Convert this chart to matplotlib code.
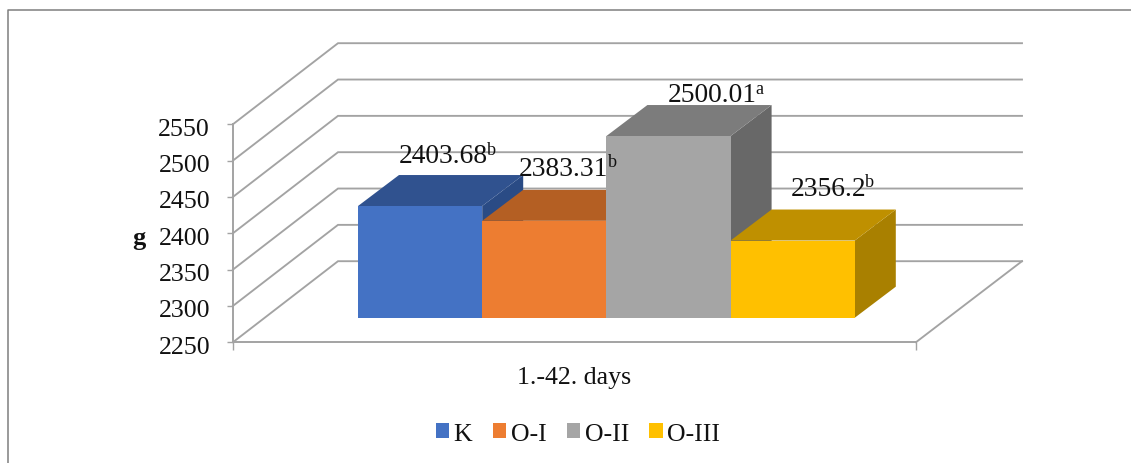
import matplotlib
matplotlib.use('Agg')
import matplotlib.pyplot as plt
from matplotlib.patches import Patch, Polygon
from matplotlib.transforms import ScaledTranslation

# weight gain per group
groups = ['K', 'O-I', 'O-II', 'O-III']
values = [2403.68, 2383.31, 2500.01, 2356.2]
letters = ['b', 'b', 'a', 'b']
y_ticks = [2250, 2300, 2350, 2400, 2450, 2500, 2550]
category = '1.-42. days'
y_label = 'g'

front_colors = ['#4472C4', '#ED7D31', '#A5A5A5', '#FFC000']
top_colors = ['#30528F', '#B45F23', '#7C7C7C', '#BF9000']
side_colors = ['#2A4B85', '#A35520', '#686868', '#A98000']

GRID = '#a3a3a3'
W, H = 1131, 464
px_per_unit = 218 / 300
bar_w = 124.2
fs = 18.6

plt.rcParams['font.family'] = ['Liberation Serif', 'DejaVu Serif']

fig = plt.figure(figsize=(W / 100, H / 100), dpi=100)
ax = fig.add_axes([0, 0, 1, 1])

# bar slots are the x unit, the first bar starts at pixel 358
ax.set_xlim(-358 / bar_w, (W - 358) / bar_w)
base_px = 343.2
ax.set_ylim(2250 - (H - base_px) / px_per_unit, 2250 + base_px / px_per_unit)


def dx(p):
    return p / bar_w


def dy(p):
    return p / px_per_unit


x_left = dx(233 - 358)
x_right = dx(916 - 358)
wall_x, wall_y = dx(105), dy(81)
back_end = dx(1022 - 358)

# walls and floor of the 3d box
for t in y_ticks:
    ax.plot([x_left, x_left + wall_x, back_end], [t, t + wall_y, t + wall_y],
            color=GRID, lw=1.35, zorder=1, solid_joinstyle='miter')
ax.plot([x_right, back_end], [2250, 2250 + wall_y], color=GRID, lw=1.35, zorder=1)

# bars: front face sits a little ahead of the back wall
bar_lift = dy(24.5)
depth_x, depth_y = dx(41), dy(31)
for i, v in enumerate(values):
    x0, x1 = i, i + 1
    y0, y1 = 2250 + bar_lift, v + bar_lift
    top = [(x0, y1), (x1, y1), (x1 + depth_x, y1 + depth_y), (x0 + depth_x, y1 + depth_y)]
    side = [(x1, y0), (x1 + depth_x, y0 + depth_y), (x1 + depth_x, y1 + depth_y), (x1, y1)]
    ax.add_patch(Polygon(side, closed=True, fc=side_colors[i], ec='none', zorder=3 + i))
    ax.add_patch(Polygon(top, closed=True, fc=top_colors[i], ec='none', zorder=3 + i))
    ax.bar(x0, y1 - y0, bottom=y0, width=1, align='edge', color=front_colors[i], zorder=3 + i)

# value labels with the significance letter as a superscript
label_shift = [(6.5, 13), (3, 15), (27, 4), (19, 15)]
fig.canvas.draw()
renderer = fig.canvas.get_renderer()
for i, v in enumerate(values):
    xc = i + 0.5 + depth_x / 2 + dx(label_shift[i][0])
    yb = v + bar_lift + depth_y + dy(label_shift[i][1])
    txt = ax.text(xc - dx(4), yb, f'{v:g}', fontsize=19.8, ha='center', va='baseline', color='#111111', zorder=20)
    bb = txt.get_window_extent(renderer)
    ax.annotate(letters[i], xy=(bb.x1, yb), xycoords=('figure pixels', 'data'), xytext=(-0.5, 6),
                textcoords='offset points', fontsize=13, ha='left', va='baseline',
                color='#111111', zorder=20)

# front axis
for s in ['top', 'right']:
    ax.spines[s].set_visible(False)
ax.spines['left'].set_position(('data', x_left))
ax.spines['left'].set_bounds(2250, 2550)
ax.spines['bottom'].set_position(('data', 2250))
ax.spines['bottom'].set_bounds(x_left, x_right)
for s in ['left', 'bottom']:
    ax.spines[s].set_color(GRID)
    ax.spines[s].set_linewidth(1.4)
ax.set_yticks(y_ticks)
ax.tick_params(axis='y', length=4.5, width=1, color=GRID, pad=12, labelsize=fs, labelcolor='#111111')
nudge = ScaledTranslation(0, -1.5 / 72, fig.dpi_scale_trans)
for lab in ax.get_yticklabels():
    lab.set_transform(lab.get_transform() + nudge)
ax.set_xticks([x_left, x_right])
ax.set_xticklabels(['', ''])
ax.set_xticks([(x_left + x_right) / 2], [category], minor=True)
ax.tick_params(axis='x', which='major', length=5.5, width=1, color=GRID)
ax.tick_params(axis='x', which='minor', length=0, pad=17, labelsize=fs, labelcolor='#111111')
ax.text(dx(138.5 - 358), 2400 - dy(4), y_label, fontsize=19, fontweight='bold', ha='center', va='center', color='#111111')

handles = [Patch(fc=c, ec='none', label=g) for c, g in zip(front_colors, groups)]
leg = ax.legend(handles=handles, ncol=4, loc='center', frameon=False, fontsize=fs,
                bbox_to_anchor=(578 / W, 1 - 435 / H), handlelength=0.52, handleheight=0.52,
                handletextpad=0.18, columnspacing=0.78, labelcolor='#111111')

# outer frame, open at the right and bottom
fig.add_artist(plt.Line2D([7.5 / W, 7.5 / W, 1], [0, 1 - 11 / H, 1 - 11 / H], color='#7f7f7f', lw=1.1))

fig.savefig('out.png', dpi=100, facecolor='white')
